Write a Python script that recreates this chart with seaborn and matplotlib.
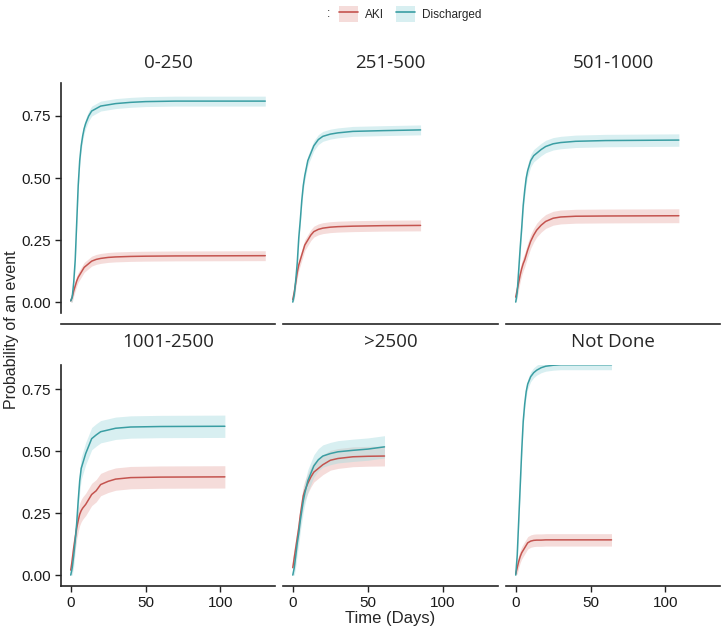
import numpy as np
import pandas as pd
import matplotlib
matplotlib.use("Agg")
import matplotlib.pyplot as plt
import seaborn as sns
from matplotlib.patches import Patch
from matplotlib.lines import Line2D
from matplotlib.legend_handler import HandlerTuple

# cumulative incidence, one panel per group
panels = ["0-250", "251-500", "501-1000", "1001-2500", ">2500", "Not Done"]

days_0_250 = [0, 1, 2, 3, 4, 5, 6, 7, 8, 9, 10, 12, 14, 17, 20, 25, 30, 40, 50, 70, 130]
aki_0_250 = [0.005, 0.02, 0.045, 0.065, 0.085, 0.10, 0.11, 0.12, 0.13, 0.14, 0.145, 0.155, 0.165,
             0.172, 0.176, 0.18, 0.182, 0.184, 0.185, 0.186, 0.187]
dis_0_250 = [0.005, 0.02, 0.08, 0.17, 0.32, 0.47, 0.57, 0.63, 0.67, 0.70, 0.72, 0.75, 0.77,
             0.78, 0.79, 0.795, 0.80, 0.805, 0.808, 0.81, 0.81]

days_251_500 = [0, 1, 2, 3, 4, 5, 6, 7, 8, 10, 12, 14, 17, 20, 25, 30, 40, 60, 85]
aki_251_500 = [0.01, 0.04, 0.08, 0.12, 0.15, 0.17, 0.19, 0.21, 0.23, 0.25, 0.27, 0.284, 0.293,
               0.298, 0.302, 0.304, 0.306, 0.308, 0.309]
dis_251_500 = [0.0, 0.03, 0.09, 0.16, 0.26, 0.33, 0.41, 0.47, 0.51, 0.57, 0.60, 0.63, 0.655,
               0.668, 0.677, 0.682, 0.688, 0.691, 0.694]

days_501_1000 = [0, 1, 2, 3, 4, 5, 6, 7, 8, 10, 12, 14, 17, 20, 25, 30, 40, 60, 109]
aki_501_1000 = [0.02, 0.05, 0.08, 0.11, 0.135, 0.155, 0.17, 0.19, 0.21, 0.245, 0.27, 0.29, 0.31,
                0.325, 0.338, 0.343, 0.346, 0.347, 0.348]
dis_501_1000 = [0.0, 0.04, 0.13, 0.22, 0.30, 0.39, 0.45, 0.50, 0.53, 0.57, 0.59, 0.60, 0.615,
                0.627, 0.638, 0.643, 0.648, 0.651, 0.653]

days_1001_2500 = [0, 1, 2, 3, 4, 5, 6, 7, 8, 10, 12, 14, 17, 20, 25, 30, 40, 60, 103]
aki_1001_2500 = [0.02, 0.06, 0.11, 0.15, 0.19, 0.22, 0.245, 0.26, 0.27, 0.285, 0.305, 0.325, 0.34,
                 0.365, 0.378, 0.387, 0.393, 0.395, 0.396]
dis_1001_2500 = [0.0, 0.03, 0.08, 0.14, 0.21, 0.30, 0.38, 0.43, 0.45, 0.49, 0.52, 0.55, 0.565,
                 0.578, 0.585, 0.592, 0.597, 0.599, 0.60]

days_2500 = [0, 1, 2, 3, 4, 5, 6, 7, 8, 10, 12, 14, 17, 20, 25, 30, 40, 50, 61]
aki_2500 = [0.03, 0.07, 0.11, 0.15, 0.19, 0.24, 0.28, 0.32, 0.34, 0.37, 0.395, 0.415, 0.43,
            0.445, 0.463, 0.47, 0.477, 0.479, 0.48]
dis_2500 = [0.0, 0.03, 0.08, 0.13, 0.17, 0.22, 0.26, 0.30, 0.33, 0.38, 0.41, 0.44, 0.465,
            0.48, 0.49, 0.497, 0.503, 0.508, 0.517]

days_nd = [0, 1, 2, 3, 4, 5, 6, 7, 8, 10, 12, 14, 17, 20, 25, 30, 64]
aki_nd = [0.005, 0.03, 0.055, 0.075, 0.09, 0.10, 0.11, 0.12, 0.13, 0.137, 0.14, 0.141, 0.141,
          0.142, 0.142, 0.142, 0.142]
dis_nd = [0.0, 0.08, 0.22, 0.36, 0.50, 0.62, 0.69, 0.74, 0.77, 0.80, 0.816, 0.826, 0.836,
          0.842, 0.846, 0.848, 0.848]

# half width of the confidence band per panel (AKI, Discharged)
band_aki = [0.02, 0.022, 0.028, 0.045, 0.04, 0.025]
band_dis = [0.02, 0.02, 0.025, 0.045, 0.045, 0.02]

panel_days = [days_0_250, days_251_500, days_501_1000, days_1001_2500, days_2500, days_nd]
panel_aki = [aki_0_250, aki_251_500, aki_501_1000, aki_1001_2500, aki_2500, aki_nd]
panel_dis = [dis_0_250, dis_251_500, dis_501_1000, dis_1001_2500, dis_2500, dis_nd]

rows = []
for i, p in enumerate(panels):
    for status, vals, hw in [("AKI", panel_aki[i], band_aki[i]), ("Discharged", panel_dis[i], band_dis[i])]:
        for t, v in zip(panel_days[i], vals):
            rows.append({"panel": p, "status": status, "time": t, "est": v,
                         "lo": max(v - hw, 0), "hi": v + hw})
df = pd.DataFrame(rows)

colors = {"AKI": "#C4544F", "Discharged": "#3A9EA3"}
fills = {"AKI": "#E9B2AF", "Discharged": "#A9DCE0"}

sns.set_style("white")
plt.rcParams["font.family"] = ["Liberation Sans", "DejaVu Sans"]

W, H = 722, 637
fig = plt.figure(figsize=(W / 100, H / 100), dpi=100)

col_left = [61, 283, 506]
col_width = [214, 215, 214]
row_top = [83, 365]
row_bottom = [313, 586]
row_ylim = [(-0.044, 0.883), (-0.044, 0.847)]
title_y = [63, 342]

for i, p in enumerate(panels):
    r, c = divmod(i, 3)
    ax = fig.add_axes([col_left[c] / W, 1 - row_bottom[r] / H,
                       col_width[c] / W, (row_bottom[r] - row_top[r]) / H])
    sub = df[df["panel"] == p]
    for status in ["AKI", "Discharged"]:
        s = sub[sub["status"] == status]
        ax.fill_between(s["time"], s["lo"], s["hi"],
                        color=fills[status], alpha=0.45, linewidth=0)
    sns.lineplot(data=sub, x="time", y="est", hue="status", palette=colors,
                 linewidth=1.1, legend=False, ax=ax,
                 estimator=None, errorbar=None)
    ax.set_xlim(-6.5, 136.5)
    ax.set_ylim(*row_ylim[r])
    ax.set_xlabel("")
    ax.set_ylabel("")
    ax.set_xticks([0, 50, 100])
    ax.set_yticks([0, 0.25, 0.5, 0.75])
    ax.set_yticklabels(["0.00", "0.25", "0.50", "0.75"])
    for side in ["top", "right"]:
        ax.spines[side].set_visible(False)
    ax.spines["bottom"].set_linewidth(1.2)
    ax.spines["left"].set_linewidth(1.2)
    ax.tick_params(axis="both", labelsize=11, length=4, width=1,
                   color="#222222", labelcolor="#1a1a1a", direction="out")
    ax.tick_params(axis="x", bottom=True)
    ax.tick_params(axis="y", left=True)
    if c > 0:
        ax.spines["left"].set_visible(False)
        ax.tick_params(axis="y", left=False, labelleft=False)
    if r == 0:
        ax.spines["bottom"].set_position(("outward", 8))
        ax.tick_params(axis="x", bottom=False, labelbottom=False)
    fig.text((col_left[c] + col_width[c] / 2) / W, 1 - title_y[r] / H, p,
             ha="center", va="center", fontsize=13.5, family=["Open Sans", "DejaVu Sans"])

fig.text(12 / W, 1 - 330 / H, "Probability of an event", rotation=90,
         ha="center", va="center", fontsize=11.5)
fig.text(390 / W, 1 - 618 / H, "Time (Days)", ha="center", va="center", fontsize=12)

handles = [(Patch(color=fills[k], alpha=0.45, linewidth=0), Line2D([], [], color=colors[k], linewidth=1.2))
           for k in ["AKI", "Discharged"]]
fig.text(328 / W, 1 - 14 / H, ":", ha="center", va="center", fontsize=8.5)
fig.legend(handles, ["AKI", "Discharged"], handler_map={tuple: HandlerTuple(ndivide=1)},
           loc="center", bbox_to_anchor=(410 / W, 1 - 14 / H), ncol=2, frameon=False,
           fontsize=8.5, handlelength=1.6, handleheight=1.6, columnspacing=1.0, handletextpad=0.6)

fig.savefig("out.png", dpi=100)
